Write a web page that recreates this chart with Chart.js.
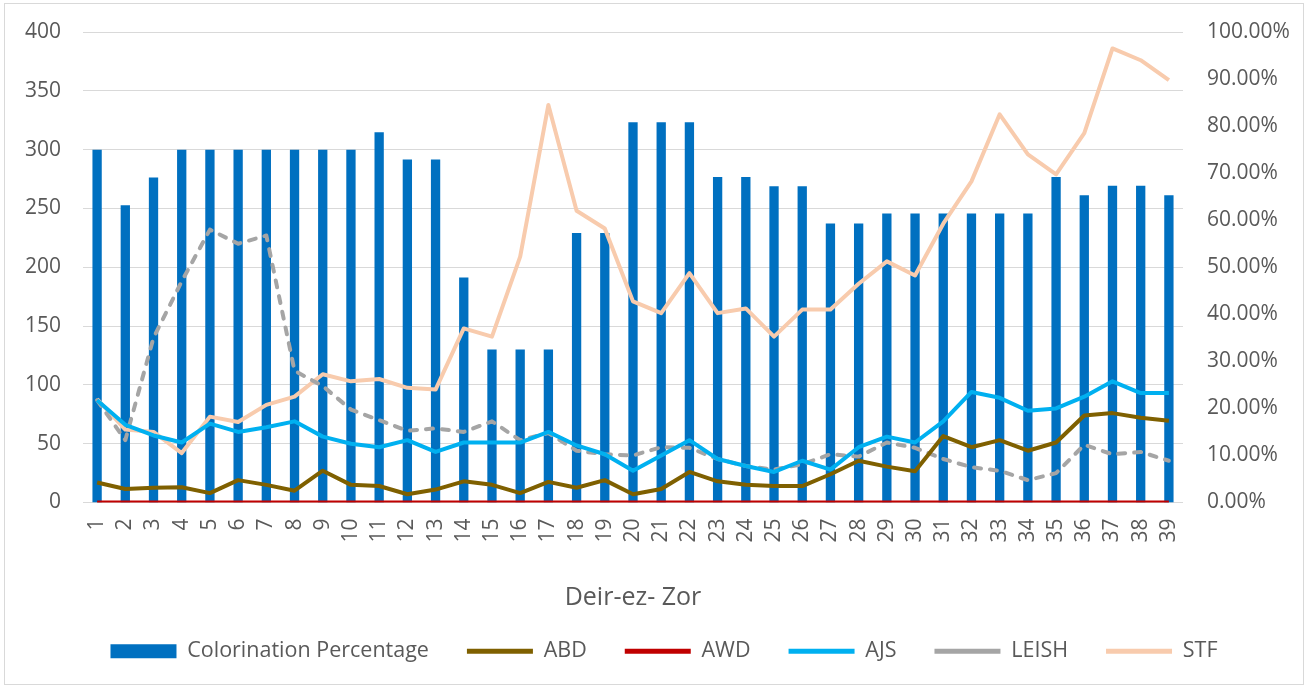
<!DOCTYPE html>
<html>
<head>
<meta charset="utf-8">
<script src="https://cdn.jsdelivr.net/npm/chart.js@4.4.0/dist/chart.umd.min.js"></script>
<style>
  html, body { margin: 0; padding: 0; background: #fff; }
  #wrap { width: 1308px; height: 688px; position: relative; }
</style>
</head>
<body>
<div id="wrap"><canvas id="chart"></canvas></div>
<script>
const categories = ['1','2','3','4','5','6','7','8','9','10','11','12','13','14','15','16','17','18','19','20',
  '21','22','23','24','25','26','27','28','29','30','31','32','33','34','35','36','37','38','39'];

// bars, right axis (%)
const colorination = [75, 63.2, 69.1, 75, 75, 75, 75, 75, 75, 75, 78.7, 72.9, 72.9,
  47.8, 32.5, 32.5, 32.5, 57.3, 57.3, 80.8, 80.8, 80.8, 69.2, 69.2, 67.2, 67.2, 59.3, 59.3,
  61.4, 61.4, 61.4, 61.4, 61.4, 61.4, 69.2, 65.3, 67.3, 67.3, 65.3];

// lines, left axis
const abd = [17, 11.5, 12.5, 13, 8, 19, 15, 10, 27, 15, 14, 7, 11,
  18, 15, 8, 17.5, 12.5, 19, 7, 11.5, 26, 18, 15, 14, 14, 24, 35.5,
  30.5, 26.5, 56.5, 47, 53, 44, 51, 74, 76, 72, 69.5];
const awd = [0, 0, 0, 0, 0, 0, 0, 0, 0, 0, 0, 0, 0, 0, 0, 0, 0, 0, 0, 0,
  0, 0, 0, 0, 0, 0, 0, 0, 0, 0, 0, 0, 0, 0, 0, 0, 0, 0, 0];
const ajs = [87, 66, 57, 51, 67, 60, 64, 69, 56, 50, 47, 53, 43,
  51, 51, 51, 60, 48.5, 41, 27, 40, 53, 37, 31, 26, 35.5, 28, 47,
  56, 51, 69, 94, 89, 78, 80, 90, 103, 93, 93];
const leish = [87, 53, 140, 188, 232, 220, 227, 112, 99, 79, 70, 61, 63,
  60, 69, 53, 59, 44, 41, 40, 47, 46.5, 37, 31, 28, 32.5, 41, 39,
  51, 46.5, 37, 30, 27, 19, 25, 49, 41, 43, 35.5];
const stf = [88, 62, 60, 42, 73, 68.5, 83, 90, 109, 103, 105, 97.5, 96,
  148, 141, 209, 338, 248, 233, 171, 161, 195, 161, 165, 141, 164, 164, 186,
  205, 193, 237, 273, 330, 296, 279, 314, 386, 376, 359];

const leftTicks = [0, 50, 100, 150, 200, 250, 300, 350, 400];

Chart.defaults.font.family = "'Open Sans', sans-serif";
Chart.defaults.color = '#595959';

function lineSet(label, data, color, extra) {
  return Object.assign({
    type: 'line',
    label: label,
    data: data,
    borderColor: color,
    backgroundColor: color,
    borderWidth: 4,
    pointRadius: 0,
    tension: 0,
    borderJoinStyle: 'round',
    yAxisID: 'y',
    order: 0
  }, extra || {});
}

const frame = {
  id: 'frame',
  beforeDraw(chart) {
    const ctx = chart.ctx;
    ctx.save();
    ctx.fillStyle = '#fff';
    ctx.fillRect(0, 0, chart.width, chart.height);
    ctx.strokeStyle = '#d9d9d9';
    ctx.lineWidth = 1;
    ctx.strokeRect(4.5, 3.5, 1299, 681);
    ctx.restore();
  },
  afterLayout(chart) {
    // legend sits a bit right of centre in the original
    chart.legend.left += 10;
    chart.legend.right += 10;
  }
};

// keep tick padding from pushing the plot down
const noVertPad = s => { s.paddingTop = 0; s.paddingBottom = 0; };

new Chart(document.getElementById('chart'), {
  data: {
    labels: categories,
    datasets: [
      {
        type: 'bar',
        label: 'Colorination Percentage',
        data: colorination,
        backgroundColor: '#0070C0',
        borderWidth: 0,
        yAxisID: 'y1',
        categoryPercentage: 1,
        barPercentage: 0.33,
        order: 1
      },
      lineSet('ABD', abd, '#7F6000'),
      lineSet('AWD', awd, '#C00000'),
      lineSet('AJS', ajs, '#00B0F0'),
      lineSet('LEISH', leish, '#A5A5A5', { borderDash: [7, 9], borderCapStyle: 'round' }),
      lineSet('STF', stf, '#F8CBAD')
    ]
  },
  options: {
    responsive: true,
    maintainAspectRatio: false,
    animation: false,
    layout: { padding: { left: 5, right: 5, top: 32, bottom: 16 } },
    plugins: {
      tooltip: { enabled: false },
      legend: {
        position: 'bottom',
        labels: {
          usePointStyle: true,
          pointStyleWidth: 66,
          boxHeight: 14,
          padding: 38,
          font: { size: 21.5 },
          color: '#595959',
          sort: (a, b) => a.datasetIndex - b.datasetIndex,
          generateLabels(chart) {
            const items = Chart.defaults.plugins.legend.labels.generateLabels(chart);
            items.forEach(it => {
              const ds = chart.data.datasets[it.datasetIndex];
              if (ds.type === 'bar') {
                it.pointStyle = 'rect';
                it.lineWidth = 0;
              } else {
                it.pointStyle = 'line';
                it.lineWidth = 5;
              }
            });
            return items;
          }
        }
      }
    },
    scales: {
      x: {
        grid: { display: false },
        border: { display: false },
        ticks: { minRotation: 90, maxRotation: 90, autoSkip: false, font: { size: 21 }, padding: 8 },
        title: { display: true, text: 'Deir-ez- Zor', font: { size: 25 }, color: '#595959', padding: { top: 0, bottom: -10 } },
        afterFit: s => { s.height = 100; }
      },
      y: {
        position: 'left',
        min: 0,
        max: 400,
        afterBuildTicks: s => { s.ticks = leftTicks.map(v => ({ value: v })); },
        ticks: { padding: 22, font: { size: 21 } },
        grid: { color: '#d9d9d9', drawTicks: false },
        border: { display: false },
        afterFit: s => { s.width = 78; noVertPad(s); }
      },
      y1: {
        position: 'right',
        min: 0,
        max: 100,
        ticks: { stepSize: 10, padding: 24, font: { size: 21 }, callback: v => v.toFixed(2) + '%' },
        grid: { display: false, drawTicks: false },
        border: { display: false },
        afterFit: s => { s.width = 120; noVertPad(s); }
      }
    }
  },
  plugins: [frame]
});
</script>
</body>
</html>
